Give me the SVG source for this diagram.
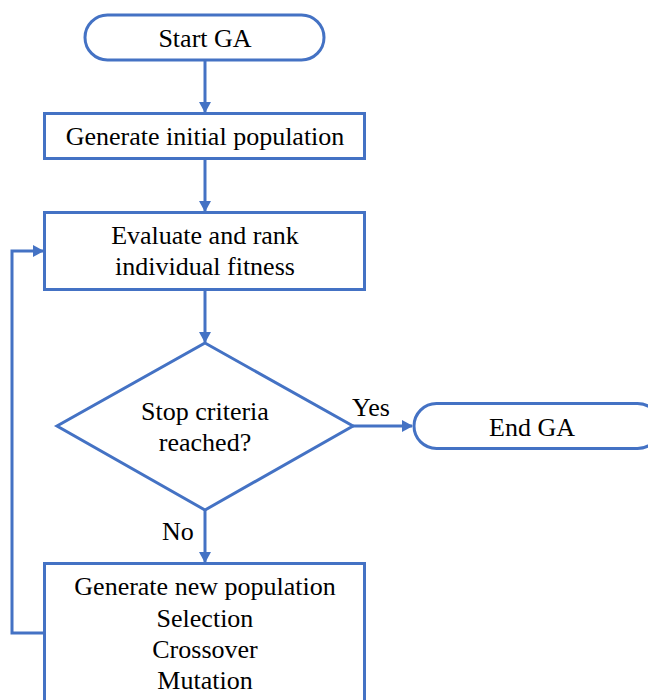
<svg xmlns="http://www.w3.org/2000/svg" width="648" height="700" viewBox="0 0 648 700">
  <style>
    .shape { fill: #ffffff; stroke: #4472c4; stroke-width: 3; }
    .line { fill: none; stroke: #4472c4; stroke-width: 3; }
    .lbl { text-anchor: start; }
    .t { font-family: 'Liberation Serif', 'Times New Roman', serif; font-size: 26px; fill: #000000; text-anchor: middle; }
  </style>
  <defs>
    <marker id="arrow" markerWidth="12" markerHeight="12" refX="10" refY="6" orient="auto" markerUnits="userSpaceOnUse">
      <path d="M0,0 L11,6 L0,12 Z" fill="#4472c4"/>
    </marker>
  </defs>
  <rect width="648" height="700" fill="#ffffff"/>

  <g class="t">
    <g id="connectors">
      <line class="line" x1="205" y1="61" x2="205" y2="112" marker-end="url(#arrow)"/>
      <line class="line" x1="205" y1="159" x2="205" y2="211" marker-end="url(#arrow)"/>
      <line class="line" x1="205" y1="290" x2="205" y2="342" marker-end="url(#arrow)"/>
      <line class="line" x1="353" y1="426" x2="412" y2="426" marker-end="url(#arrow)"/>
      <line class="line" x1="205" y1="510" x2="205" y2="562" marker-end="url(#arrow)"/>
      <polyline class="line" points="44,633 12,633 12,251 43,251" marker-end="url(#arrow)"/>
      <text class="lbl" x="352" y="416">Yes</text>
      <text class="lbl" x="162" y="540">No</text>
    </g>

    <g id="start">
      <rect class="shape" x="85" y="15" width="239" height="45" rx="22.5"/>
      <text x="205" y="47">Start GA</text>
    </g>

    <g id="init">
      <rect class="shape" x="44.5" y="113.5" width="320" height="45"/>
      <text x="205" y="145">Generate initial population</text>
    </g>

    <g id="evaluate">
      <rect class="shape" x="44.5" y="212.5" width="320" height="77"/>
      <text x="205" y="244">Evaluate and rank</text>
      <text x="205" y="275">individual fitness</text>
    </g>

    <g id="decision">
      <polygon class="shape" points="205,343 353,426 205,510 57,426"/>
      <text x="205" y="420">Stop criteria</text>
      <text x="205" y="451">reached?</text>
    </g>

    <g id="end">
      <rect class="shape" x="414" y="403.5" width="246" height="45" rx="22.5"/>
      <text x="532" y="436">End GA</text>
    </g>

    <g id="newpop">
      <rect class="shape" x="44.5" y="563.5" width="320" height="150"/>
      <text x="205" y="595">Generate new population</text>
      <text x="205" y="627">Selection</text>
      <text x="205" y="658">Crossover</text>
      <text x="205" y="689">Mutation</text>
    </g>
  </g>
</svg>
